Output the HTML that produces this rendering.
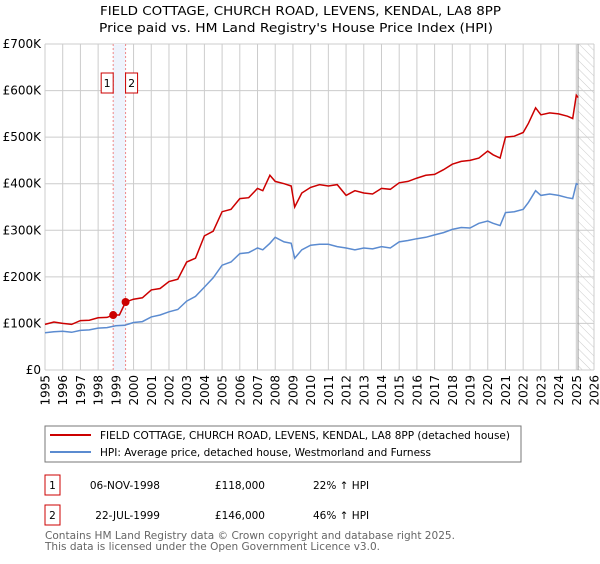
<!DOCTYPE html>
<html><head><meta charset="utf-8"><style>
body{margin:0;background:#fff;font-family:"DejaVu Sans","Liberation Sans",sans-serif;}
svg text{font-family:"DejaVu Sans","Liberation Sans",sans-serif;}
</style></head><body>
<svg id="c" width="600" height="560" viewBox="0 0 600 560">
<defs><pattern id="hatch" width="6" height="6" patternUnits="userSpaceOnUse" patternTransform="rotate(-45)"><line x1="0" y1="0" x2="0" y2="6" stroke="#ccc" stroke-width="1"/></pattern></defs>
<text x="100" y="15" font-size="12.5" textLength="401" lengthAdjust="spacingAndGlyphs">FIELD COTTAGE, CHURCH ROAD, LEVENS, KENDAL, LA8 8PP</text>
<text x="99" y="32" font-size="12.5" textLength="394" lengthAdjust="spacingAndGlyphs">Price paid vs. HM Land Registry's House Price Index (HPI)</text>
<g id="grid"></g><g id="plot"></g>
<g>
<rect x="45" y="426" width="476" height="36" fill="#fff" stroke="#777"/>
<line x1="50" y1="435" x2="91" y2="435" stroke="#cc0000" stroke-width="2"/>
<text x="100" y="439" font-size="10.5" textLength="410" lengthAdjust="spacingAndGlyphs">FIELD COTTAGE, CHURCH ROAD, LEVENS, KENDAL, LA8 8PP (detached house)</text>
<line x1="50" y1="452" x2="91" y2="452" stroke="#5b8bd0" stroke-width="2"/>
<text x="100" y="456" font-size="10.5" textLength="331" lengthAdjust="spacingAndGlyphs">HPI: Average price, detached house, Westmorland and Furness</text>
</g>
<g font-size="10.5">
<rect x="45" y="475" width="15" height="20" fill="none" stroke="#cc0000"/><text x="52.5" y="489" text-anchor="middle">1</text>
<text x="160" y="489" text-anchor="end">06-NOV-1998</text><text x="265" y="489" text-anchor="end">£118,000</text><text x="313" y="489">22% ↑ HPI</text></g>
<g font-size="10.5">
<rect x="45" y="505" width="15" height="20" fill="none" stroke="#cc0000"/><text x="52.5" y="519" text-anchor="middle">2</text>
<text x="160" y="519" text-anchor="end">22-JUL-1999</text><text x="265" y="519" text-anchor="end">£146,000</text><text x="313" y="519">46% ↑ HPI</text></g>
<text x="45" y="539" font-size="10.5" fill="#666" textLength="410" lengthAdjust="spacingAndGlyphs">Contains HM Land Registry data © Crown copyright and database right 2025.</text>
<text x="45" y="550" font-size="10.5" fill="#666" textLength="335" lengthAdjust="spacingAndGlyphs">This data is licensed under the Open Government Licence v3.0.</text>
</svg>
<script>
const yTicks=[0,100000,200000,300000,400000,500000,600000,700000];
const yTickLabels=["£0","£100K","£200K","£300K","£400K","£500K","£600K","£700K"];
const xYears=[1995,1996,1997,1998,1999,2000,2001,2002,2003,2004,2005,2006,2007,2008,2009,2010,2011,2012,2013,2014,2015,2016,2017,2018,2019,2020,2021,2022,2023,2024,2025,2026];
const hpiDates=[1995,1995.5,1996,1996.5,1997,1997.5,1998,1998.5,1999,1999.5,2000,2000.5,2001,2001.5,2002,2002.5,2003,2003.5,2004,2004.5,2005,2005.5,2006,2006.5,2007,2007.3,2007.7,2008,2008.5,2008.9,2009.1,2009.5,2010,2010.5,2011,2011.5,2012,2012.5,2013,2013.5,2014,2014.5,2015,2015.5,2016,2016.5,2017,2017.5,2018,2018.5,2019,2019.5,2020,2020.3,2020.7,2021,2021.5,2022,2022.3,2022.7,2023,2023.5,2024,2024.5,2024.8,2025,2025.1];
const hpiValues=[80000,82000,83000,81000,85000,86000,90000,91000,95000,96000,102000,104000,114000,118000,125000,130000,148000,158000,178000,198000,225000,232000,250000,252000,262000,258000,272000,285000,275000,272000,240000,258000,268000,270000,270000,265000,262000,258000,262000,260000,265000,262000,275000,278000,282000,285000,290000,295000,302000,306000,305000,315000,320000,315000,310000,338000,340000,345000,360000,385000,375000,378000,375000,370000,368000,400000,398000];
const priceDates=[1995,1995.5,1996,1996.5,1997,1997.5,1998,1998.5,1998.85,1999.2,1999.55,2000,2000.5,2001,2001.5,2002,2002.5,2003,2003.5,2004,2004.5,2005,2005.5,2006,2006.5,2007,2007.3,2007.7,2008,2008.5,2008.9,2009.1,2009.5,2010,2010.5,2011,2011.5,2012,2012.5,2013,2013.5,2014,2014.5,2015,2015.5,2016,2016.5,2017,2017.5,2018,2018.5,2019,2019.5,2020,2020.3,2020.7,2021,2021.5,2022,2022.3,2022.7,2023,2023.5,2024,2024.5,2024.8,2025,2025.1];
const priceValues=[98000,103000,100000,98000,106000,107000,112000,113000,118000,118000,146000,152000,155000,172000,175000,190000,195000,232000,240000,288000,298000,340000,345000,368000,370000,390000,385000,418000,405000,400000,395000,350000,380000,392000,398000,395000,398000,375000,385000,380000,378000,390000,388000,402000,405000,412000,418000,420000,430000,442000,448000,450000,455000,470000,462000,455000,500000,502000,510000,530000,563000,548000,552000,550000,545000,540000,590000,585000];
const saleDates=[1998.85,1999.55];const saleValues=[118000,146000];const saleLabels=["1","2"];
const NS="http://www.w3.org/2000/svg";
const X=d=>45+(d-1995)*(549/31), Y=v=>370-v*(326/700000);
function mk(t,a,p){const e=document.createElementNS(NS,t);for(const k in a)e.setAttribute(k,a[k]);p.appendChild(e);return e;}
const g=document.getElementById('grid'),p=document.getElementById('plot');
yTicks.forEach((v,i)=>{const l=mk('line',{x1:45,x2:594,y1:Y(v),y2:Y(v),stroke:'#ccc'},g);


const t=mk('text',{x:41,y:Y(v)+4,'text-anchor':'end','font-size':12},g);t.textContent=yTickLabels[i];

});
xYears.forEach(yv=>{const l=mk('line',{x1:X(yv),x2:X(yv),y1:44,y2:370,stroke:'#ccc'},g);


const t=mk('text',{x:0,y:0,'text-anchor':'end','font-size':12,transform:`translate(${X(yv)+4.5},375) rotate(-90)`},g);t.textContent=yv;

});
const hs=mk('rect',{x:X(2025.1),y:44,width:594-X(2025.1),height:326,fill:'url(#hatch)'},g);


mk('line',{x1:X(2025.1),x2:X(2025.1),y1:44,y2:370,stroke:'#999'},g);
const band=mk('rect',{x:X(saleDates[0]),y:44,width:X(saleDates[1])-X(saleDates[0]),height:326,fill:'#eef3fc'},g);


saleDates.forEach(d=>{mk('line',{x1:X(d),x2:X(d),y1:44,y2:370,stroke:'#e88','stroke-dasharray':'2,2'},g);});
const pts=(ds,vs)=>ds.map((d,i)=>X(d).toFixed(1)+','+Y(vs[i]).toFixed(1)).join(' ');
const hl=mk('polyline',{points:pts(hpiDates,hpiValues),fill:'none',stroke:'#5b8bd0','stroke-width':1.5},p);


const pl=mk('polyline',{points:pts(priceDates,priceValues),fill:'none',stroke:'#cc0000','stroke-width':1.5},p);


saleDates.forEach((d,i)=>{const c=mk('circle',{cx:X(d),cy:Y(saleValues[i]),r:4,fill:'#cc0000'},p);


const bx=i==0?X(d)-12:X(d);
const r=mk('rect',{x:bx,y:73,width:12,height:20,fill:'#fff',stroke:'#cc0000'},p);


const t=mk('text',{x:bx+6,y:87,'text-anchor':'middle','font-size':11},p);t.textContent=saleLabels[i];

});
</script>
</body></html>
